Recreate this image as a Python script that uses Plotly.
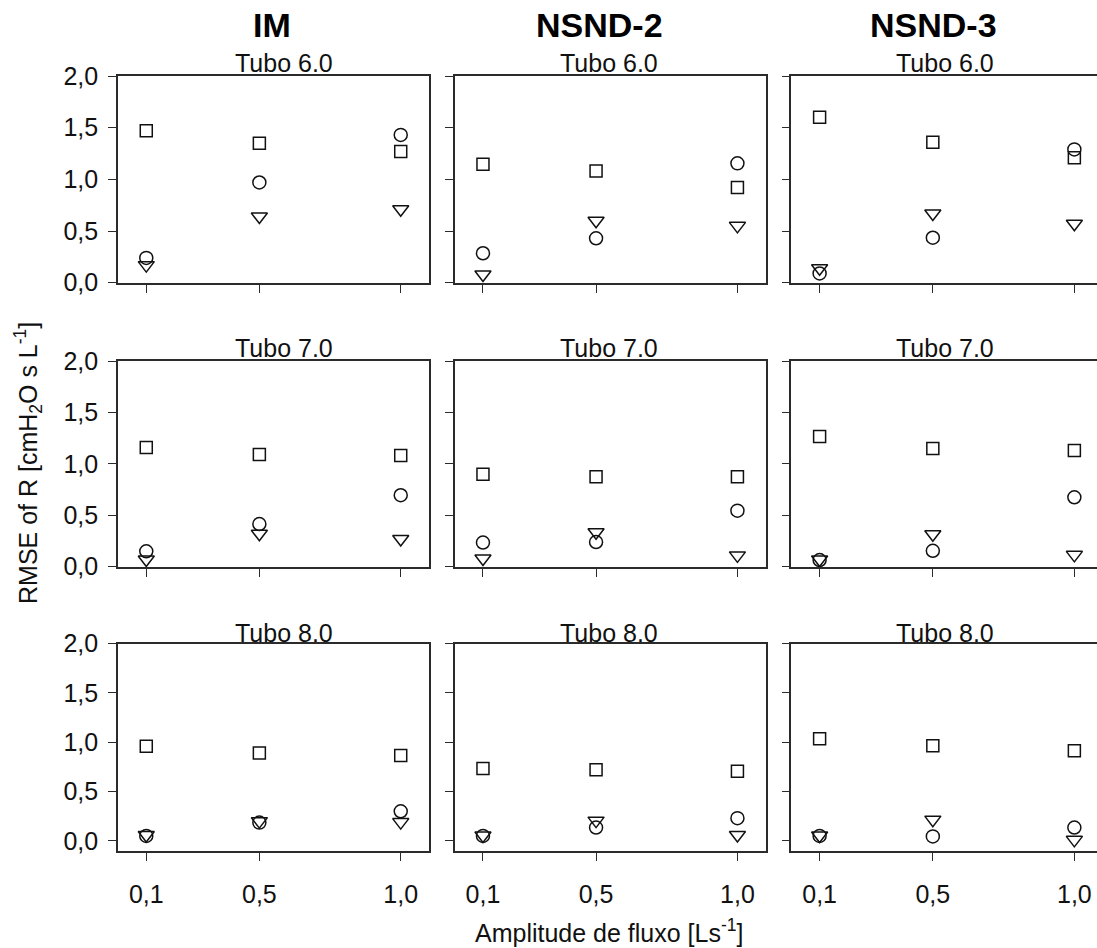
import plotly.graph_objects as go

# Flow amplitudes (x) and their comma-decimal tick labels
amplitude = [0.1, 0.5, 1.0]
amplitude_labels = ["0,1", "0,5", "1,0"]
rmse_ticks = [0.0, 0.5, 1.0, 1.5, 2.0]
rmse_tick_labels = ["0,0", "0,5", "1,0", "1,5", "2,0"]

methods = ["IM", "NSND-2", "NSND-3"]
tubes = ["Tubo 6.0", "Tubo 7.0", "Tubo 8.0"]

# RMSE of R, one row per tube (6.0, 7.0, 8.0), one value per amplitude
im_square = [[1.47, 1.35, 1.27], [1.16, 1.09, 1.08], [0.96, 0.89, 0.865]]
im_circle = [[0.24, 0.97, 1.43], [0.15, 0.415, 0.695], [0.05, 0.185, 0.30]]
im_triangle = [[0.17, 0.64, 0.71], [0.07, 0.32, 0.27], [0.06, 0.20, 0.19]]

nsnd2_square = [[1.145, 1.08, 0.92], [0.90, 0.875, 0.875], [0.735, 0.72, 0.705]]
nsnd2_circle = [[0.285, 0.43, 1.155], [0.235, 0.24, 0.545], [0.05, 0.135, 0.23]]
nsnd2_triangle = [[0.08, 0.60, 0.55], [0.08, 0.335, 0.11], [0.055, 0.205, 0.06]]

nsnd3_square = [[1.60, 1.36, 1.21], [1.265, 1.15, 1.13], [1.035, 0.965, 0.915]]
nsnd3_circle = [[0.09, 0.435, 1.29], [0.065, 0.155, 0.675], [0.05, 0.045, 0.135]]
nsnd3_triangle = [[0.14, 0.67, 0.57], [0.07, 0.315, 0.115], [0.055, 0.215, 0.01]]

series_by_method = [
    [(im_square, "square-open"), (im_circle, "circle-open"), (im_triangle, "triangle-down-open")],
    [(nsnd2_square, "square-open"), (nsnd2_circle, "circle-open"), (nsnd2_triangle, "triangle-down-open")],
    [(nsnd3_square, "square-open"), (nsnd3_circle, "circle-open"), (nsnd3_triangle, "triangle-down-open")],
]

W, H = 1097, 948
FONT = "Liberation Sans, Arial, sans-serif"
LINE = "#2b2b2b"
INK = "#111111"

# panel frames in pixels
col_px = [(118, 429), (454.7, 765.7), (791.3, 1097)]
row_px = [(76, 282.7), (361, 566.7), (643.7, 850.7)]
row_yrange = [[0, 2], [0, 2], [-0.1, 2]]
col_xrange = [[0, 1.1], [0, 1.1], [0, 1.08]]

marker_sizes = {"square-open": 12, "circle-open": 13, "triangle-down-open": 14}

fig = go.Figure()
layout = {}
for r in range(3):
    for c in range(3):
        idx = r * 3 + c + 1
        xa = "x" if idx == 1 else f"x{idx}"
        ya = "y" if idx == 1 else f"y{idx}"
        for values, symbol in series_by_method[c]:
            fig.add_trace(go.Scatter(
                x=amplitude, y=values[r], mode="markers", xaxis=xa, yaxis=ya,
                cliponaxis=False, showlegend=False,
                marker=dict(symbol=symbol, size=marker_sizes[symbol],
                            color=INK, line=dict(width=1.5, color=INK)),
            ))
        x0, x1 = col_px[c]
        y0, y1 = row_px[r]
        xkey = "xaxis" if idx == 1 else f"xaxis{idx}"
        ykey = "yaxis" if idx == 1 else f"yaxis{idx}"
        layout[xkey] = dict(
            domain=[x0 / W, x1 / W], anchor=ya, range=col_xrange[c],
            tickmode="array", tickvals=amplitude, ticktext=amplitude_labels,
            showticklabels=(r == 2), ticks="outside", ticklen=8, tickwidth=1.4,
            tickcolor=LINE, showline=True, linecolor=LINE, linewidth=1.6,
            mirror=True, showgrid=False, zeroline=False, automargin=False,
            ticklabelstandoff=12,
            tickfont=dict(family=FONT, size=25, color="#111111"),
        )
        layout[ykey] = dict(
            domain=[1 - y1 / H, 1 - y0 / H], anchor=xa, range=row_yrange[r],
            tickmode="array", tickvals=rmse_ticks, ticktext=rmse_tick_labels,
            showticklabels=(c == 0), ticks="outside", ticklen=8, tickwidth=1.4,
            tickcolor=LINE, showline=True, linecolor=LINE, linewidth=1.6,
            mirror=(c != 2), showgrid=False, zeroline=False, automargin=False,
            ticklabelstandoff=5,
            tickfont=dict(family=FONT, size=25, color="#111111"),
        )

annotations = []
# method headers
for name, px in zip(methods, [271.5, 599, 933]):
    annotations.append(dict(text=f"<b>{name}</b>", x=px / W, y=1 - 25 / H,
                            xref="paper", yref="paper", showarrow=False,
                            xanchor="center", yanchor="middle",
                            font=dict(family=FONT, size=34, color="#000000")))
# tube labels above each panel
tube_x = [284, 609, 945]
tube_y = [63, 348, 632.5]
for r in range(3):
    for c in range(3):
        annotations.append(dict(text=tubes[r], x=tube_x[c] / W, y=1 - tube_y[r] / H,
                                xref="paper", yref="paper", showarrow=False,
                                xanchor="center", yanchor="middle",
                                font=dict(family=FONT, size=25, color="#111111")))
# axis titles
annotations.append(dict(text="Amplitude de fluxo [Ls<sup>-1</sup>]", x=610 / W, y=1 - 931 / H,
                        xref="paper", yref="paper", showarrow=False,
                        xanchor="center", yanchor="middle",
                        font=dict(family=FONT, size=25, color="#111111")))
annotations.append(dict(text="RMSE of R [cmH<sub>2</sub>O s L<sup>-1</sup>]", x=28 / W, y=1 - 463 / H,
                        xref="paper", yref="paper", showarrow=False, textangle=-90,
                        xanchor="center", yanchor="middle",
                        font=dict(family=FONT, size=25, color="#111111")))

fig.update_layout(
    template="none",
    width=W, height=H, margin=dict(l=0, r=0, t=0, b=0, pad=0, autoexpand=False),
    paper_bgcolor="white", plot_bgcolor="white",
    font=dict(family=FONT, color="#111111"),
    annotations=annotations, **layout,
)

fig.write_html("out.html")
